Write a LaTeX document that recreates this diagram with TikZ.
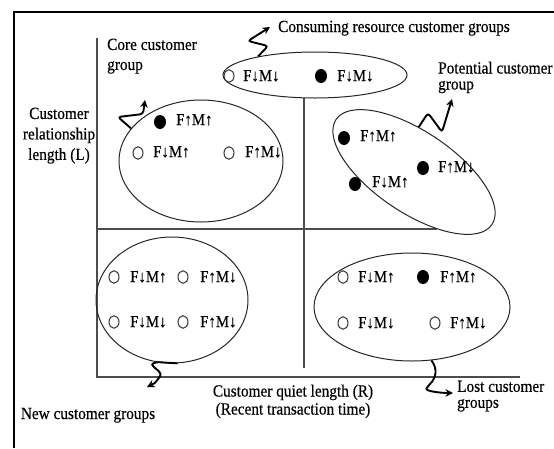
\documentclass[tikz,border=0pt]{standalone}
\usepackage{fontspec}
\setmainfont{Liberation Serif}[FakeStretch=0.9,FakeBold=0.4]
\usetikzlibrary{shapes.geometric,arrows.meta}

\begin{document}
\begin{tikzpicture}[x=1pt,y=-1pt,
	grp/.style={draw=black!85,ellipse,inner sep=0pt,line width=1pt},
	hole/.style={draw=black!80,ellipse,inner sep=0pt,line width=1pt,minimum width=10pt,minimum height=12.5pt},
	dot/.style={fill=black,ellipse,inner sep=0pt,minimum width=12pt,minimum height=14pt},
	fm/.style={anchor=base west,inner sep=0pt,font=\fontsize{16.5}{18}\selectfont},
	lbl/.style={inner sep=0pt,font=\fontsize{17}{19}\selectfont},
	axis/.style={draw=black!70,line width=1.3pt},
	squig/.style={line width=1.9pt,rounded corners=3pt,-{Stealth[length=7.5pt,width=7.5pt]}}]
	\useasboundingbox (0,0) rectangle (554,448);
	\draw[line width=2pt] (14,448) -- (14,12) -- (554,12);

	% axes and quadrants
	\draw[axis] (97,38) -- (97,377) -- (520,377);
	\draw[axis] (97,229) -- (437,229);
	\draw[axis] (304,98) -- (304,368);

	% customer groups
	\node[grp,minimum width=184pt,minimum height=46pt] (consume) at (315,75) {};
	\node[grp,minimum width=164pt,minimum height=122pt] (core) at (201,161) {};
	\node[grp,minimum width=188pt,minimum height=81pt,rotate=-34] (potential) at (414,172) {};
	\node[grp,minimum width=152pt,minimum height=126pt] (newgrp) at (172,300) {};
	\node[grp,minimum width=196pt,minimum height=108pt] (lost) at (412,307) {};

	\node[hole] (cs1) at (229,76) {};
	\node[fm] (cst1) at (243,81) {F↓M↓};
	\node[dot] (cs2) at (321,76) {};
	\node[fm] (cst2) at (337,81) {F↓M↓};

	\node[dot] (co1) at (160,122) {};
	\node[fm] (cot1) at (176,125) {F↑M↑};
	\node[hole] (co2) at (138,153) {};
	\node[fm] (cot2) at (153,157) {F↓M↑};
	\node[hole] (co3) at (229,153) {};
	\node[fm] (cot3) at (245,157) {F↑M↓};

	\node[dot] (po1) at (344,138) {};
	\node[fm] (pot1) at (360,141) {F↑M↑};
	\node[dot] (po2) at (355,184) {};
	\node[fm] (pot2) at (372,187) {F↓M↑};
	\node[dot] (po3) at (423,168) {};
	\node[fm] (pot3) at (438,172) {F↑M↓};

	\node[hole] (ne1) at (114,277) {};
	\node[fm] (net1) at (130,282) {F↓M↑};
	\node[hole] (ne2) at (183,277) {};
	\node[fm] (net2) at (200,282) {F↑M↓};
	\node[hole] (ne3) at (114,322) {};
	\node[fm] (net3) at (130,327) {F↓M↓};
	\node[hole] (ne4) at (183,322) {};
	\node[fm] (net4) at (200,327) {F↑M↓};

	\node[hole] (lo1) at (343,277) {};
	\node[fm] (lot1) at (358,282) {F↓M↑};
	\node[dot] (lo2) at (423,277) {};
	\node[fm] (lot2) at (440,282) {F↑M↑};
	\node[hole] (lo3) at (343,323) {};
	\node[fm] (lot3) at (358,328) {F↓M↓};
	\node[hole] (lo4) at (435,323) {};
	\node[fm] (lot4) at (450,328) {F↑M↓};

	% labels
	\node[lbl,anchor=base west] (consumelbl) at (278,32) {Consuming resource customer groups};
	\node[lbl,anchor=north west,align=left,font=\fontsize{17}{20}\selectfont] (corelbl) at (107,38.5) {Core customer\\group};
	\node[lbl,anchor=north,align=center,font=\fontsize{17}{20.5}\selectfont] (ylbl) at (59,107.5) {Customer\\relationship\\length (L)};
	\node[lbl,anchor=north west,align=left,font=\fontsize{17}{16}\selectfont] (potlbl) at (438,61.5) {Potential customer\\group};
	\node[lbl,anchor=base] (newlbl) at (88,419) {New customer groups};
	\node[lbl,anchor=north,align=center,font=\fontsize{17}{18}\selectfont] (xlbl) at (293,384.5) {Customer quiet length (R)\\(Recent transaction time)};
	\node[lbl,anchor=north west,align=left,font=\fontsize{17}{16}\selectfont] (lostlbl) at (457,380.5) {Lost customer\\groups};

	% movements
	\draw[squig] (consume.162) -- (268,46) -- (248,41) -- (270,27);
	\draw[squig] (core.155) -- (118,117) -- (143,114) -- (145,100);
	\draw[squig] (potential.118) -- (428,113) -- (442,132) -- (452,99);
	\draw[squig] (newgrp.275) -- (156,362) .. controls (148,366) and (164,371) .. (158,379) .. controls (155,383) .. (147,387);
	\draw[squig] (lost.290) .. controls (438,369) and (436,378) .. (428,386) .. controls (425,391) and (440,393) .. (453,393);
\end{tikzpicture}
\end{document}
